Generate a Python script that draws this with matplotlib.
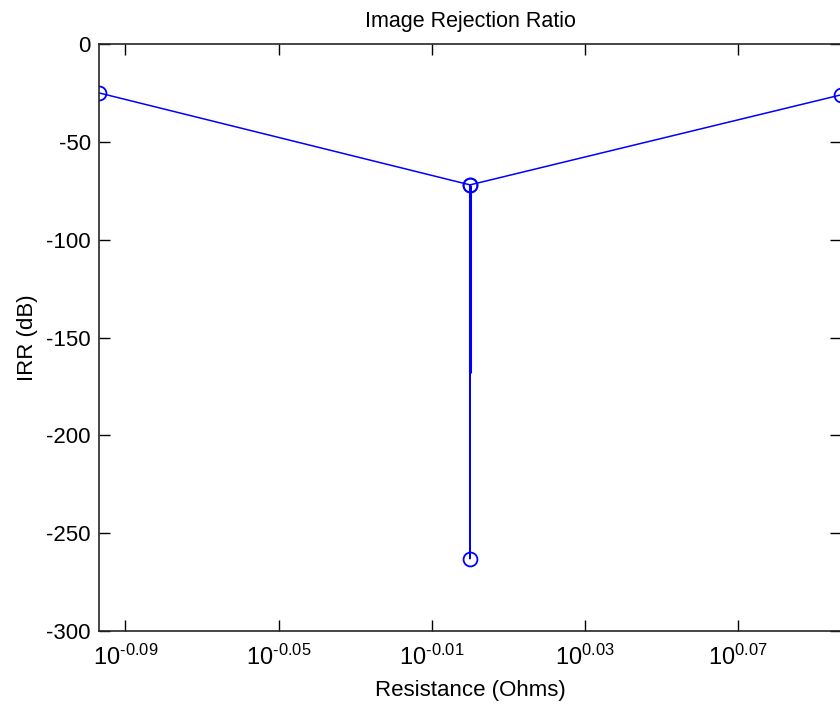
import matplotlib
matplotlib.use("Agg")
import matplotlib.pyplot as plt
from matplotlib.ticker import FixedLocator, NullLocator

plt.rcParams['font.family'] = ['Liberation Sans', 'DejaVu Sans']
plt.rcParams['mathtext.fontset'] = 'custom'
plt.rcParams['mathtext.rm'] = 'Liberation Sans'
plt.rcParams['mathtext.it'] = 'Liberation Sans'
plt.rcParams['axes.unicode_minus'] = False

# Data (sweep: left end, drop to null at R = 1, back up, right end)
resistance = [0.8, 1.0, 1.0, 1.0, 1.25]
irr_db = [-25, -72, -263, -72, -26]
# overlapping sweep segment near R = 1 (drawn thicker in the reference)
dense_r = [1.0, 1.0]
dense_irr = [-72, -168]

xtick_exps = ['-0.09', '-0.05', '-0.01', '0.03', '0.07']
ytick_vals = [0, -50, -100, -150, -200, -250, -300]

fig = plt.figure(figsize=(8.4, 7.04), dpi=100)
ax = fig.add_axes([99/840, 73/704, 742/840, 587/704])

blue = (0, 0, 1)
ax.plot(resistance, irr_db, color=blue, lw=1.1, marker='o', ms=10,
        mfc='none', mec=blue, mew=1.3)
ax.plot(dense_r, dense_irr, color=blue, lw=2.2, solid_capstyle='butt')

ax.set_xscale('log')
ax.set_xlim(0.8, 1.25)
ax.set_ylim(-300, 0)

ax.xaxis.set_major_locator(FixedLocator([10**float(e) for e in xtick_exps]))
ax.xaxis.set_minor_locator(NullLocator())
ax.set_xticklabels([r'$\mathregular{10^{\text{%s}}}$' % e for e in xtick_exps], fontsize=17)
ax.set_yticks(ytick_vals)
ax.set_yticklabels([str(v) for v in ytick_vals], fontsize=16)

ax.tick_params(direction='in', length=8, width=1, top=True, right=True)
ax.tick_params(axis='x', pad=10)
ax.tick_params(axis='y', pad=6)
for s in ax.spines.values():
    s.set_linewidth(1.2)
    s.set_color('#262626')

ax.set_title('Image Rejection Ratio', fontsize=15.5, pad=12)
ax.set_xlabel('Resistance (Ohms)', fontsize=16, labelpad=7)
ax.set_ylabel('IRR (dB)', fontsize=16, labelpad=6)

fig.savefig('out.png', dpi=100)
